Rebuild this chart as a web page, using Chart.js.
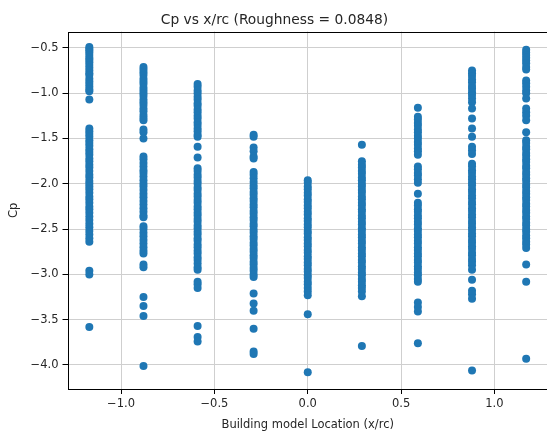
<!DOCTYPE html>
<html>
<head>
<meta charset="utf-8">
<script src="https://cdn.jsdelivr.net/npm/chart.js@4"></script>
<style>
html,body{margin:0;padding:0;background:#fff;overflow:hidden;}
#wrap{width:552px;height:437px;}
</style>
</head>
<body>
<div id="wrap"><canvas id="c" width="552" height="437"></canvas></div>
<script>
// ---- data ----
const locations = [-1.17, -0.88, -0.59, -0.29, 0.0, 0.29, 0.59, 0.88, 1.17];

const cpAtM117 = [-0.49,-0.51,-0.53,-0.55,-0.58,-0.61,-0.63,-0.66,-0.69,-0.72,-0.75,-0.78,-0.80,-0.84,-0.87,-0.90,-0.93,-0.96,-0.98,-1.07,
  -1.39,-1.42,-1.45,-1.48,-1.52,-1.55,-1.58,-1.62,-1.65,-1.68,-1.72,-1.75,-1.79,-1.82,-1.86,-1.90,-1.93,-1.97,-2.00,-2.03,-2.06,-2.10,
  -2.14,-2.17,-2.21,-2.25,-2.28,-2.32,-2.36,-2.40,-2.44,-2.48,-2.52,-2.56,-2.60,-2.64,-2.96,-3.00,-3.58];
const cpAtM088 = [-0.71,-0.74,-0.77,-0.80,-0.84,-0.87,-0.90,-0.94,-0.97,-1.00,-1.03,-1.07,-1.10,-1.13,-1.17,-1.20,-1.24,-1.27,-1.30,
  -1.40,-1.43,-1.50,-1.70,-1.73,-1.77,-1.81,-1.85,-1.88,-1.92,-1.96,-2.00,-2.03,-2.07,-2.11,-2.15,-2.19,-2.23,-2.27,-2.31,-2.35,-2.37,
  -2.47,-2.50,-2.54,-2.58,-2.62,-2.66,-2.70,-2.74,-2.77,-2.89,-2.92,-3.25,-3.35,-3.46,-4.01];
const cpAtM059 = [-0.90,-0.93,-0.97,-1.00,-1.04,-1.07,-1.11,-1.14,-1.18,-1.21,-1.25,-1.28,-1.32,-1.35,-1.39,-1.42,-1.46,-1.48,-1.59,-1.71,
  -1.83,-1.86,-1.90,-1.93,-1.97,-2.00,-2.04,-2.07,-2.11,-2.14,-2.18,-2.21,-2.25,-2.28,-2.32,-2.35,-2.39,-2.42,-2.46,-2.49,-2.53,-2.56,
  -2.60,-2.63,-2.67,-2.70,-2.74,-2.77,-2.81,-2.84,-2.88,-2.92,-2.95,-3.08,-3.11,-3.15,-3.57,-3.69,-3.74];
const cpAtM029 = [-1.46,-1.48,-1.60,-1.64,-1.70,-1.72,-1.87,-1.90,-1.94,-1.98,-2.02,-2.05,-2.09,-2.12,-2.16,-2.19,-2.23,-2.26,-2.30,
  -2.33,-2.37,-2.40,-2.44,-2.47,-2.51,-2.54,-2.58,-2.61,-2.65,-2.68,-2.72,-2.75,-2.79,-2.82,-2.86,-2.89,-2.93,-2.96,-3.00,-3.03,
  -3.21,-3.32,-3.40,-3.60,-3.85,-3.88];
const cpAt000 = [-1.96,-1.99,-2.03,-2.06,-2.10,-2.13,-2.17,-2.20,-2.24,-2.27,-2.31,-2.34,-2.38,-2.41,-2.45,-2.48,-2.52,-2.55,-2.59,
  -2.62,-2.66,-2.69,-2.73,-2.76,-2.80,-2.83,-2.87,-2.90,-2.94,-2.97,-3.01,-3.04,-3.08,-3.11,-3.15,-3.19,-3.23,-3.44,-4.08];
const cpAtP029 = [-1.57,-1.75,-1.79,-1.82,-1.86,-1.89,-1.93,-1.96,-2.00,-2.03,-2.07,-2.10,-2.14,-2.17,-2.21,-2.24,-2.28,-2.31,-2.35,
  -2.38,-2.42,-2.45,-2.49,-2.52,-2.56,-2.59,-2.63,-2.66,-2.70,-2.73,-2.77,-2.80,-2.84,-2.87,-2.91,-2.94,-2.98,-3.01,-3.05,-3.08,
  -3.12,-3.15,-3.19,-3.24,-3.79];
const cpAtP059 = [-1.16,-1.26,-1.29,-1.33,-1.36,-1.40,-1.43,-1.47,-1.50,-1.54,-1.57,-1.61,-1.64,-1.68,-1.81,-1.84,-1.88,-1.91,-1.95,
  -1.99,-2.11,-2.21,-2.24,-2.28,-2.31,-2.35,-2.38,-2.42,-2.45,-2.49,-2.52,-2.56,-2.59,-2.63,-2.66,-2.70,-2.73,-2.77,-2.80,-2.84,
  -2.87,-2.91,-2.94,-2.98,-3.01,-3.05,-3.08,-3.31,-3.36,-3.41,-3.76];
const cpAtP088 = [-0.75,-0.78,-0.81,-0.85,-0.88,-0.92,-0.95,-0.99,-1.02,-1.06,-1.10,-1.17,-1.28,-1.39,-1.48,-1.59,-1.63,-1.67,
  -1.78,-1.81,-1.85,-1.88,-1.92,-1.95,-1.99,-2.02,-2.06,-2.09,-2.13,-2.16,-2.20,-2.23,-2.27,-2.30,-2.34,-2.37,-2.41,-2.44,-2.48,
  -2.51,-2.55,-2.58,-2.62,-2.65,-2.69,-2.72,-2.76,-2.79,-2.83,-2.86,-2.90,-2.95,-3.06,-3.18,-3.22,-3.27,-4.06];
const cpAtP117 = [-0.52,-0.55,-0.58,-0.61,-0.64,-0.67,-0.71,-0.74,-0.86,-0.89,-0.93,-0.97,-1.00,-1.06,-1.17,-1.21,-1.25,-1.30,-1.43,
  -1.52,-1.55,-1.59,-1.62,-1.66,-1.69,-1.73,-1.76,-1.80,-1.83,-1.87,-1.90,-1.94,-1.97,-2.01,-2.04,-2.08,-2.11,-2.15,-2.18,-2.22,
  -2.25,-2.29,-2.32,-2.36,-2.39,-2.43,-2.46,-2.50,-2.53,-2.57,-2.60,-2.64,-2.67,-2.71,-2.89,-3.08,-3.93];

const cpColumns = [cpAtM117, cpAtM088, cpAtM059, cpAtM029, cpAt000, cpAtP029, cpAtP059, cpAtP088, cpAtP117];

const xTickValues = [-1.0, -0.5, 0.0, 0.5, 1.0];
const yTickValues = [-4.0, -3.5, -3.0, -2.5, -2.0, -1.5, -1.0, -0.5];

const titleText = 'Cp vs x/rc (Roughness = 0.0848)';
const xLabel = 'Building model Location (x/rc)';
const yLabel = 'Cp';

// ---- build ----
const points = [];
locations.forEach((x, i) => cpColumns[i].forEach(v => points.push({x: x, y: v})));

const fmt = v => (Math.round(v * 10) / 10).toFixed(1).replace('-', '\u2212');
const FONT = '"DejaVu Sans", sans-serif';
const TXT = '#262626';

const boxPlugin = {
  id: 'box',
  afterDatasetsDraw(chart) {
    const a = chart.chartArea, ctx = chart.ctx;
    ctx.save();
    ctx.strokeStyle = '#000';
    ctx.lineWidth = 1;
    ctx.strokeRect(Math.round(a.left) + 0.5, Math.round(a.top) + 0.5, Math.round(a.right - a.left), Math.round(a.bottom - a.top));
    ctx.restore();
  }
};

new Chart(document.getElementById('c'), {
  type: 'scatter',
  data: {
    datasets: [{
      data: points,
      backgroundColor: '#1f77b4',
      borderColor: '#1f77b4',
      borderWidth: 0,
      pointRadius: 4,
      pointHoverRadius: 4
    }]
  },
  options: {
    responsive: false,
    animation: false,
    events: [],
    layout: {padding: {left: 0, right: 3, top: 0, bottom: 0}},
    plugins: {
      legend: {display: false},
      tooltip: {enabled: false},
      title: {
        display: true,
        text: titleText,
        color: TXT,
        font: {family: FONT, size: 13.8, weight: 'normal'},
        padding: {top: 12, bottom: 3}
      }
    },
    scales: {
      x: {
        type: 'linear',
        min: -1.287,
        max: 1.287,
        afterBuildTicks: s => { s.ticks = xTickValues.map(v => ({value: v})); },
        afterFit: s => { s.height = 48; },
        grid: {color: '#cfcfcf', lineWidth: 1, tickColor: '#000', tickLength: 5, drawTicks: true},
        border: {display: false},
        ticks: {color: TXT, font: {family: FONT, size: 11.5}, padding: 3, maxRotation: 0, callback: v => fmt(v)},
        title: {display: true, text: xLabel, color: TXT, font: {family: FONT, size: 11.5}, padding: {top: 0, bottom: 5.5}}
      },
      y: {
        type: 'linear',
        min: -4.265,
        max: -0.32,
        afterBuildTicks: s => { s.ticks = yTickValues.map(v => ({value: v})); },
        afterFit: s => { s.width = 67.5; },
        grid: {color: '#cfcfcf', lineWidth: 1, tickColor: '#000', tickLength: 5, drawTicks: true},
        border: {display: false},
        ticks: {color: TXT, font: {family: FONT, size: 11.5}, padding: 4, callback: v => fmt(v)},
        title: {display: true, text: yLabel, color: TXT, font: {family: FONT, size: 11.5}, padding: {top: 7, bottom: 0}}
      }
    }
  },
  plugins: [boxPlugin]
});
</script>
</body>
</html>
